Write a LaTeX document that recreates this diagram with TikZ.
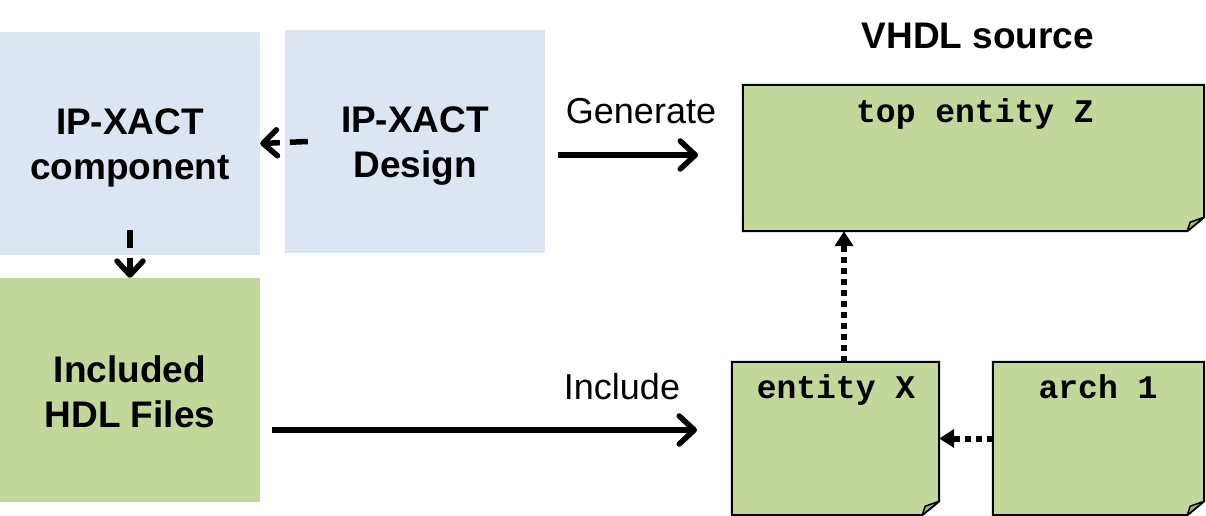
\documentclass[tikz,border=0pt]{standalone}
\usepackage{fontspec}
\setmainfont{Liberation Sans}
\newfontfamily\monofont{Liberation Mono}
\usetikzlibrary{arrows.meta,calc}
\definecolor{boxblue}{RGB}{220,230,242}
\definecolor{boxgreen}{RGB}{196,215,155}
\definecolor{foldgreen}{RGB}{163,180,128}
\tikzset{
  boxtext/.style={inner sep=0pt, align=center, font=\fontsize{37}{45}\selectfont\bfseries},
  bluebox/.style={rectangle, draw=none, inner sep=0pt, fill=boxblue},
  greenbox/.style={rectangle, draw=none, inner sep=0pt, fill=boxgreen},
  notebox/.style={rectangle, draw=none, inner sep=0pt},
  monolabel/.style={anchor=base, inner sep=0pt, font=\fontsize{33}{40}\selectfont\monofont\bfseries},
  textlabel/.style={anchor=base, inner sep=0pt, font=\fontsize{36}{42}\selectfont},
  boldlabel/.style={anchor=base, inner sep=0pt, font=\fontsize{37}{42}\selectfont\bfseries},
  solidarrow/.style={line width=5.5pt, -{Straight Barb[length=15pt,width=28pt,line cap=round,line join=round]}},
  dasharrow/.style={line width=5.5pt, dash pattern=on 18pt off 10pt, -{Straight Barb[length=14pt,width=26pt,line cap=round,line join=round]}},
  dotarrow/.style={line width=6pt, dash pattern=on 6pt off 5pt, -{Triangle[length=15pt,width=18pt]}},
  outline/.style={draw=black, line width=2pt, fill=boxgreen, line join=miter},
  foldstyle/.style={draw=black, line width=1.5pt, fill=foldgreen, line join=round}
}
\newcommand{\dogear}[1]{%
  \draw[outline] (#1.north west) -- (#1.north east) -- ([yshift=14pt]#1.south east)
    -- ([xshift=-17pt]#1.south east) -- (#1.south west) -- cycle;
  \draw[foldstyle] ([yshift=14pt]#1.south east) -- ([xshift=-14pt,yshift=9pt]#1.south east)
    -- ([xshift=-17pt]#1.south east) -- cycle;
}
\begin{document}
\begin{tikzpicture}[x=1pt,y=-1pt]
\useasboundingbox (0,0) rectangle (1206,516);
% left boxes
\node[bluebox, minimum width=260pt, minimum height=223pt,
  label={[boxtext, yshift=-4pt]center:{IP-XACT\\component}}] (comp) at (130,143.5) {};
\node[bluebox, minimum width=260pt, minimum height=223pt,
  label={[boxtext, yshift=-5pt]center:{IP-XACT\\Design}}] (design) at (415,141.5) {};
\node[greenbox, minimum width=260pt, minimum height=224pt,
  label={[boxtext, yshift=-2pt]center:{Included\\HDL Files}}] (incl) at (130,390) {};
% VHDL notes
\node[notebox, minimum width=461pt, minimum height=146pt] (topz) at (973.5,158) {};
\node[notebox, minimum width=207pt, minimum height=153pt] (entx) at (835.5,438.5) {};
\node[notebox, minimum width=211pt, minimum height=153pt] (arch) at (1098.5,438.5) {};
\dogear{topz}
\dogear{entx}
\dogear{arch}
\node[monolabel] (topzlabel) at (975,122) {top entity Z};
\node[monolabel] (entxlabel) at (836,398) {entity X};
\node[monolabel] (archlabel) at (1098,398) {arch 1};
\node[boldlabel] (vhdl) at (978,49) {VHDL source};
% generate / include
\coordinate (genA) at (558,155);
\coordinate (genB) at (698,155);
\coordinate (incA) at (272,430);
\coordinate (incB) at (697,430);
\node[textlabel] (genlabel) at (641,124) {Generate};
\node[textlabel] (inclabel) at (622,399) {Include};
\draw[solidarrow] (genA) -- (genB);
\draw[solidarrow] (incA) -- (incB);
% dashed arrows
\draw[dasharrow] ([xshift=23pt]design.west) -- (comp.east);
\draw[dasharrow] ([yshift=25pt]comp.south) -- (incl.north);
% dotted arrows
\draw[dotarrow] ([xshift=8.5pt]entx.north) -- ([xshift=8.5pt]entx.north |- topz.south);
\draw[dotarrow] (arch.west) -- (entx.east);
\end{tikzpicture}
\end{document}
